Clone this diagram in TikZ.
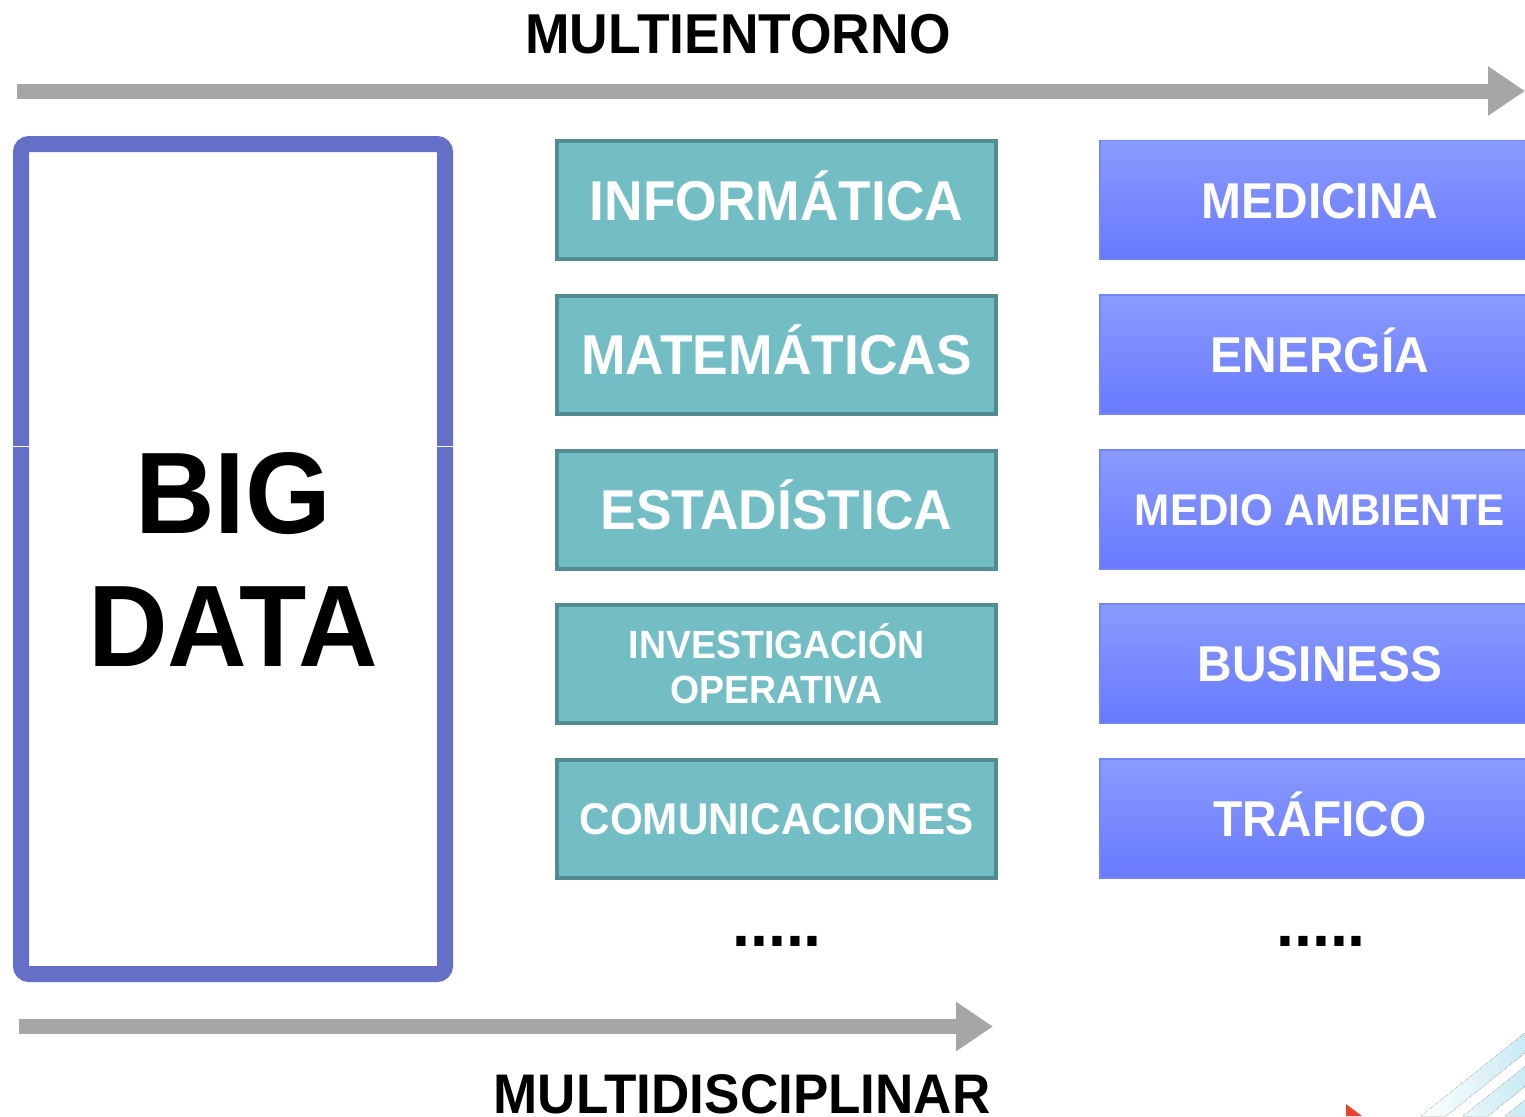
\documentclass[tikz,border=0pt]{standalone}
\usepackage{fontspec}
\setmainfont[FakeStretch=0.95]{Liberation Sans}
\usetikzlibrary{arrows.meta}
\definecolor{tealfill}{HTML}{72BEC4}
\definecolor{tealline}{HTML}{538C90}
\definecolor{bluetop}{HTML}{8A9BFF}
\definecolor{bluebot}{HTML}{6879FF}
\definecolor{blueline}{HTML}{7585F5}
\definecolor{bigline}{HTML}{6470C8}
\definecolor{grayarrow}{HTML}{A6A6A6}
\definecolor{stripe}{HTML}{C6E9F4}
\definecolor{redtri}{HTML}{E8432F}

\begin{document}
\begin{tikzpicture}
  [x=0.5pt,y=-0.5pt,
   every node/.style={font=\bfseries,inner sep=0pt},
   caps/.style={text height=#1,text depth=0pt},
   tealbox/.style={draw=tealline,fill=tealfill,line width=2pt,minimum width=219.5pt,minimum height=59pt,
     text=white,font=\bfseries\fontsize{28.1}{30}\selectfont},
   disc/.style={tealbox,caps=20.1pt},
   area/.style={draw=blueline,line width=0.6pt,top color=bluetop,bottom color=bluebot,minimum width=220pt,
     minimum height=59.5pt,text=white,caps=18pt,font=\bfseries\fontsize{25.2}{28}\selectfont},
   flow/.style={draw=grayarrow,line width=7.5pt,-{Triangle[length=18.5pt,width=23.5pt]}},
   more/.style={anchor=base,font=\bfseries\fontsize{34}{36}\selectfont}]
  \useasboundingbox (0,0) rectangle (1525,1116);

  \node[anchor=base,font=\bfseries\fontsize{28.1}{30}\selectfont] (top) at (738,53) {MULTIENTORNO};
  \node[anchor=base,caps=20pt,font=\bfseries\fontsize{27.9}{30}\selectfont] (bottom) at (742,1113) {MULTIDISCIPLINAR};

  \coordinate (t1) at (17,91);
  \coordinate (t2) at (1525,91);
  \coordinate (b1) at (19,1026.5);
  \coordinate (b2) at (993,1026.5);
  \draw[flow] (t1) -- (t2);
  \draw[flow] (b1) -- (b2);

  \node[draw=bigline,line width=8pt,rounded corners=4pt,minimum width=212pt,minimum height=415pt,
    align=center,font=\bfseries\fontsize{58}{66.5}\selectfont] (big) at (233,559) {BIG\\DATA};
  \draw[white,line width=0.5pt] (13,446) -- (29,446) (437,446) -- (453,446);

  \node[disc] (inf) at (776.5,200)   {INFORMÁTICA};
  \node[disc] (mat) at (776.5,354.5) {MATEMÁTICAS};
  \node[disc] (est) at (776.5,509.5) {ESTADÍSTICA};
  \node[tealbox,align=center,font=\bfseries\fontsize{19.7}{22.5}\selectfont] (inv) at (776.5,663.5) {INVESTIGACIÓN\\OPERATIVA};
  \node[disc,caps=15.9pt,font=\bfseries\fontsize{22.2}{24}\selectfont] (com) at (776.5,818.5) {COMUNICACIONES};
  \node[more] (d1) at (777,946) {.....};

  \node[area] (med) at (1320,200)   {MEDICINA};
  \node[area] (ene) at (1320,354.5) {ENERGÍA};
  \node[area,caps=15.9pt,font=\bfseries\fontsize{22.2}{24}\selectfont] (amb) at (1320,509.5) {MEDIO AMBIENTE};
  \node[area] (bus) at (1320,663.5) {BUSINESS};
  \node[area] (tra) at (1320,818.5) {TRÁFICO};
  \node[more] (d2) at (1321,946) {.....};

  \begin{scope}
    \clip (1300,980) rectangle (1525,1116);
    \fill[left color=white,middle color=stripe,right color=stripe]
      (1421,1116) -- (1446,1116) -- (1530,1048.8) -- (1530,1028.8) -- cycle
      (1463,1116) -- (1488,1116) -- (1530,1082.4) -- (1530,1062.4) -- cycle
      (1505,1116) -- (1530,1116) -- (1530,1096) -- cycle;
  \end{scope}
  \fill[redtri] (1346,1104) -- (1346,1116) -- (1362,1116) -- cycle;
\end{tikzpicture}
\end{document}
